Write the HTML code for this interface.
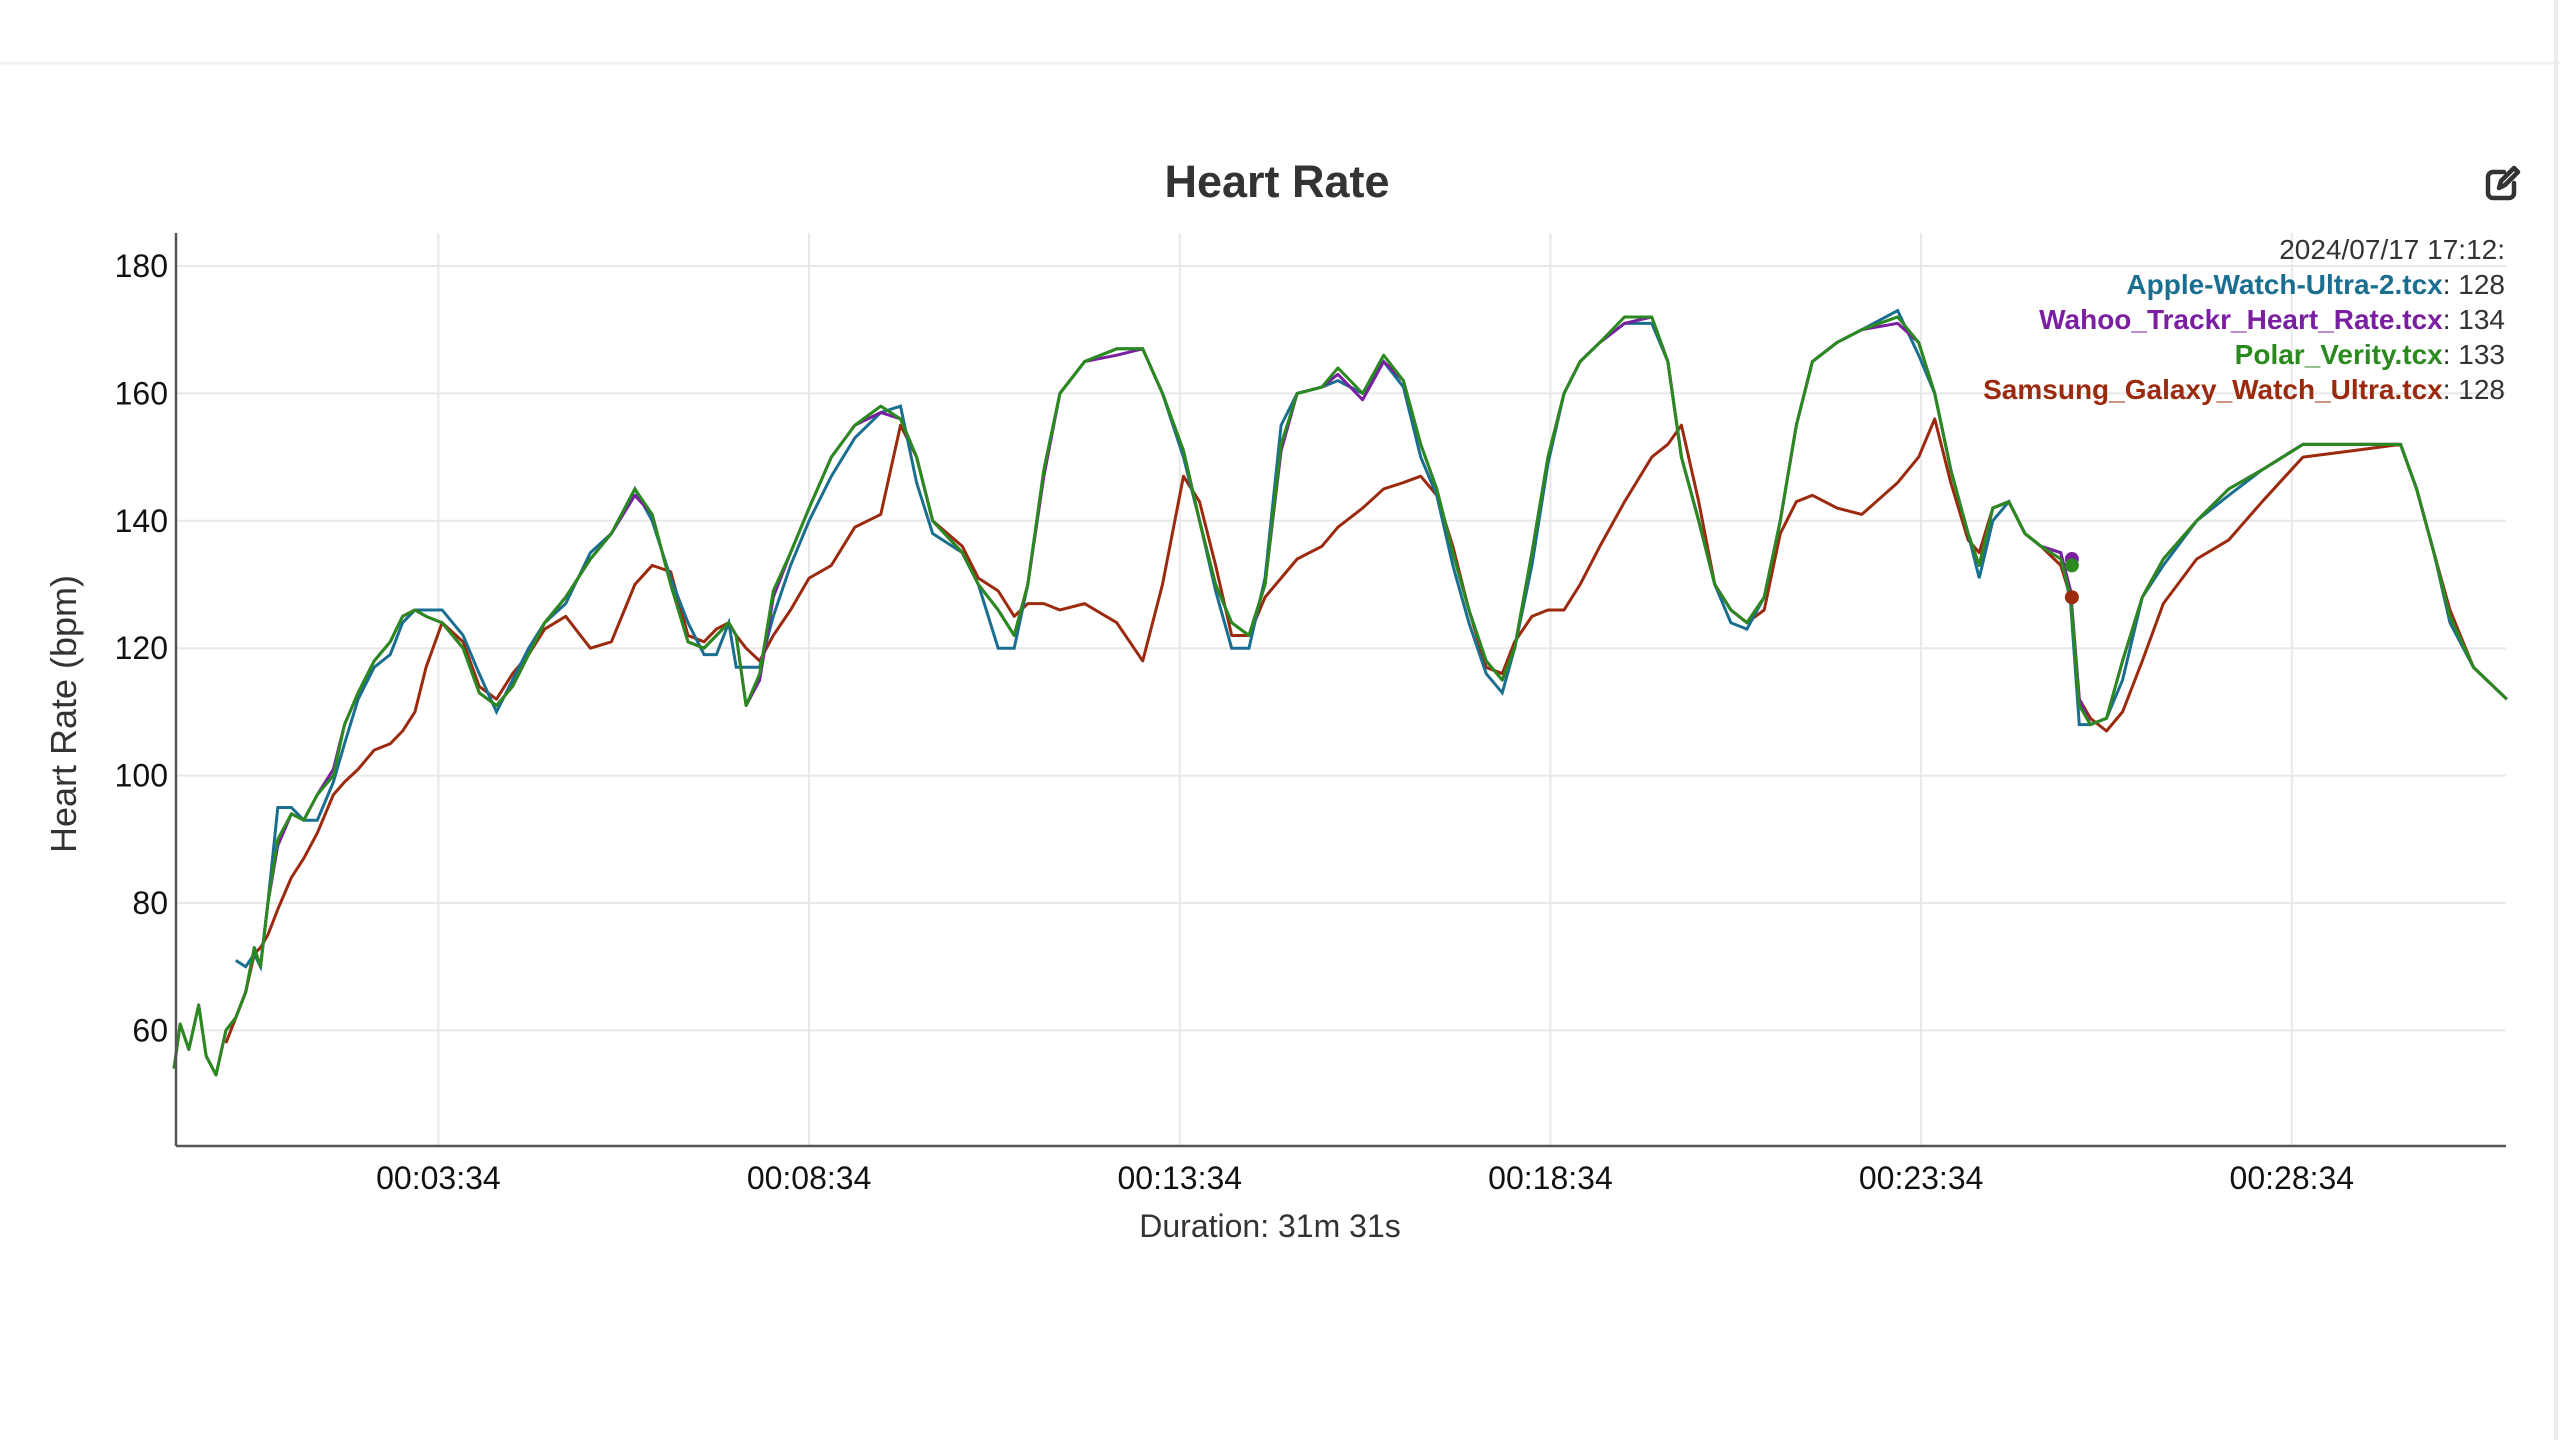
<!DOCTYPE html>
<html><head><meta charset="utf-8"><style>
html,body{margin:0;padding:0;background:#fff;width:2560px;height:1440px;overflow:hidden;font-family:"Liberation Sans",sans-serif}
svg text{font-family:"Liberation Sans",sans-serif}
</style></head><body>
<svg id="chart" width="2560" height="1440" viewBox="0 0 2560 1440" xmlns="http://www.w3.org/2000/svg">
<line x1="0" y1="63" x2="2560" y2="63" stroke="#f0f0f0" stroke-width="3"/>
<line x1="2556" y1="0" x2="2556" y2="1440" stroke="#ececec" stroke-width="4"/>
<text x="1277" y="197" text-anchor="middle" font-size="45" font-weight="bold" fill="#333">Heart Rate</text>
<g transform="translate(2486,168)" fill="none" stroke="#333" stroke-width="4.5" stroke-linecap="round" stroke-linejoin="round">
<path d="M18 4 H7 a5 5 0 0 0 -5 5 V25 a5 5 0 0 0 5 5 H23 a5 5 0 0 0 5 -5 V15"/>
<path d="M13 20 L15 13 L28 0 L32 4 L19 17 Z" fill="none"/>
</g>
<g id="grid"></g>
<g id="series"></g>
<g id="axes"></g>
<g font-size="28" text-anchor="end">
<text x="2505" y="259" fill="#333">2024/07/17 17:12:</text>
<text x="2505" y="294"><tspan font-weight="bold" fill="#1a6f91">Apple-Watch-Ultra-2.tcx</tspan><tspan fill="#333">: 128</tspan></text>
<text x="2505" y="329"><tspan font-weight="bold" fill="#7a1fa2">Wahoo_Trackr_Heart_Rate.tcx</tspan><tspan fill="#333">: 134</tspan></text>
<text x="2505" y="364"><tspan font-weight="bold" fill="#2b8a1e">Polar_Verity.tcx</tspan><tspan fill="#333">: 133</tspan></text>
<text x="2505" y="399"><tspan font-weight="bold" fill="#9b2a0e">Samsung_Galaxy_Watch_Ultra.tcx</tspan><tspan fill="#333">: 128</tspan></text>
</g>
</svg>
<script>
const times=[0,5,12,20,26,34,42,50,58,65,70,76,84,95,105,116,129,138,149,162,175,185,195,204,217,234,247,261,274,287,300,317,337,354,373,387,402,416,429,439,449,455,463,474,485,499,514,532,551,572,588,601,614,638,651,667,680,691,704,717,737,763,784,800,817,830,843,856,870,883,896,909,929,942,962,979,995,1009,1022,1035,1048,1062,1075,1085,1099,1112,1125,1138,1154,1174,1196,1209,1220,1234,1247,1260,1273,1287,1300,1313,1326,1346,1366,1395,1412,1425,1438,1452,1461,1472,1485,1498,1511,1527,1535,1542,1551,1564,1577,1593,1610,1637,1663,1690,1723,1763,1802,1815,1829,1842,1861,1888];
const polar=[54,61,57,64,56,53,60,62,66,73,70,80,90,94,93,97,100,108,113,118,121,125,126,125,124,120,113,111,114,119,124,128,134,138,145,141,130,121,120,122,124,122,111,116,129,135,142,150,155,158,156,150,140,135,130,126,122,130,148,160,165,167,167,160,151,140,130,124,122,130,152,160,161,164,160,166,162,152,145,135,126,118,115,120,135,150,160,165,168,172,172,165,150,140,130,126,124,128,140,155,165,168,170,172,168,160,148,138,133,142,143,138,136,134,128,111,108,109,118,128,134,140,145,148,152,152,152,145,135,125,117,112];
const wahoo=[54,61,57,64,56,53,60,62,66,73,70,80,89,94,93,97,101,108,113,118,121,125,126,125,124,120,113,111,114,119,124,128,134,138,144,141,130,121,120,122,124,122,111,115,128,135,142,150,155,157,156,150,140,135,130,126,122,130,147,160,165,166,167,160,151,140,130,124,122,130,151,160,161,163,159,165,162,152,145,135,126,118,115,120,135,150,160,165,168,171,172,165,150,140,130,126,124,128,140,155,165,168,170,171,168,160,148,138,133,142,143,138,136,135,129,112,108,109,118,128,134,140,145,148,152,152,152,145,135,125,117,112];
const apple=[null,null,null,null,null,null,null,71,70,72,70,80,95,95,93,93,99,105,112,117,119,124,126,126,126,122,116,110,115,120,124,127,135,138,145,140,131,124,119,119,124,117,117,117,125,133,140,147,153,157,158,146,138,135,130,120,120,130,148,160,165,167,167,160,150,140,129,120,120,131,155,160,161,162,160,165,161,150,144,133,124,116,113,120,133,149,160,165,168,171,171,165,150,140,130,124,123,128,140,155,165,168,170,173,166,160,148,138,131,140,143,138,136,135,127,108,108,109,115,128,133,140,144,148,152,152,152,145,135,124,117,112];
const samsung=[null,null,null,null,null,null,58,62,66,72,73,75,79,84,87,91,97,99,101,104,105,107,110,117,124,121,114,112,116,119,123,125,120,121,130,133,132,122,121,123,124,122,120,118,122,126,131,133,139,141,155,150,140,136,131,129,125,127,127,126,127,124,118,130,147,143,133,122,122,128,131,134,136,139,142,145,146,147,144,136,126,117,116,121,125,126,126,130,136,143,150,152,155,143,130,126,124,126,138,143,144,142,141,146,150,156,146,137,135,142,143,138,136,133,128,112,109,107,110,118,127,134,137,143,150,151,152,145,135,126,117,112];
const yTicks=[60,80,100,120,140,160,180];
const xTickTimes=[214,514,814,1114,1414,1714];
const xTickLabels=["00:03:34","00:08:34","00:13:34","00:18:34","00:23:34","00:28:34"];
const hoverTime=1536;
const hoverVals=[134,133,128];
const NS="http://www.w3.org/2000/svg";
const L=176,R=2506,T=233,B=1146;
const xs=s=>174+s*1.2356;
const ys=v=>266+(180-v)*6.37;
function mk(tag,attrs,parent){const e=document.createElementNS(NS,tag);for(const k in attrs)e.setAttribute(k,attrs[k]);parent.appendChild(e);return e;}
const grid=document.getElementById('grid'),axes=document.getElementById('axes'),ser=document.getElementById('series');
yTicks.forEach(v=>{
 const g=mk('line',{x1:L,x2:R,y1:ys(v),y2:ys(v),stroke:'#e8e8e8','stroke-width':2},grid);
 
 
 const t=mk('text',{x:168,y:ys(v)+11,'text-anchor':'end','font-size':32,fill:'#111'},axes);
 t.textContent=v;
 
 
});
xTickTimes.forEach((s,i)=>{
 const g=mk('line',{x1:xs(s),x2:xs(s),y1:T,y2:B,stroke:'#e8e8e8','stroke-width':2},grid);
 
 
 const t=mk('text',{x:xs(s),y:1189,'text-anchor':'middle','font-size':32,fill:'#111'},axes);
 t.textContent=xTickLabels[i];
 
 
});
let a=mk('line',{x1:L,x2:L,y1:T,y2:B,stroke:'#555','stroke-width':2.5},axes);


a=mk('line',{x1:L,x2:R,y1:B,y2:B,stroke:'#555','stroke-width':2.5},axes);


let xt=mk('text',{x:1270,y:1237,'text-anchor':'middle','font-size':32,fill:'#333'},axes);
xt.textContent='Duration: 31m 31s';


let yt=mk('text',{x:0,y:0,'text-anchor':'middle','font-size':36,fill:'#333',transform:'translate(76,714) rotate(-90)'},axes);
yt.textContent='Heart Rate (bpm)';


function path(vals,step){let d='',prev=null;vals.forEach((v,i)=>{if(v==null){prev=null;return;}const x=xs(times[i]),y=ys(v);if(prev==null)d+='M'+x+' '+y;else if(step)d+='H'+x+'V'+y;else d+='L'+x+' '+y;prev=v;});return d;}
let p=mk('path',{d:path(samsung,false),fill:'none',stroke:'#9b2a0e','stroke-width':3,'stroke-linejoin':'round'},ser);


p=mk('path',{d:path(apple,false),fill:'none',stroke:'#1a6f91','stroke-width':3},ser);


p=mk('path',{d:path(wahoo,false),fill:'none',stroke:'#7a1fa2','stroke-width':3,'stroke-linejoin':'round'},ser);


p=mk('path',{d:path(polar,false),fill:'none',stroke:'#2b8a1e','stroke-width':3,'stroke-linejoin':'round'},ser);


const hcols=['#7a1fa2','#2b8a1e','#9b2a0e'];
const hnames=['wahoo-hover-dot','polar-hover-dot','samsung-hover-dot'];
hoverVals.forEach((v,i)=>{
 const c=mk('circle',{cx:xs(hoverTime),cy:ys(v),r:7,fill:hcols[i]},ser);
 
 
});
</script>
</body></html>
